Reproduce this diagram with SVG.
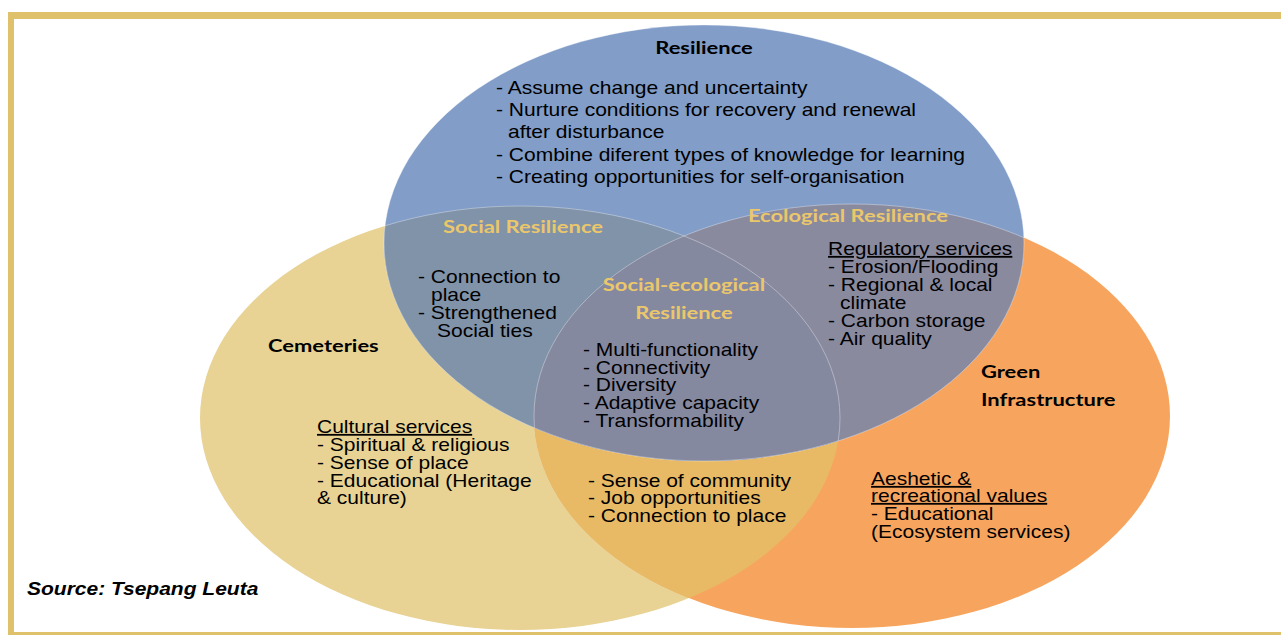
<svg xmlns="http://www.w3.org/2000/svg" width="1281" height="635" viewBox="0 0 1281 635">
<style>
.t{font-family:"Liberation Sans",Arial,sans-serif;font-size:18px;fill:#000;transform-box:fill-box;transform-origin:0 0;transform:scale(1.167,1)}
.h{font-family:Lato,"Open Sans",sans-serif;font-weight:bold;font-size:17px;fill:#000;transform-box:fill-box;transform-origin:0 0;transform:scale(1.29,1)}
.g{font-family:Lato,"Open Sans",sans-serif;font-weight:bold;font-size:17px;fill:#EBC76B;text-anchor:middle;transform-box:fill-box;transform-origin:center;transform:scale(1.29,1)}
.c{text-anchor:middle;transform-origin:center}
.u{text-decoration:underline}
.s{font-family:"Liberation Sans",Arial,sans-serif;font-weight:bold;font-style:italic;font-size:18px;fill:#000;transform-box:fill-box;transform-origin:0 0;transform:scale(1.167,1)}
.edge{fill:none;stroke:#ffffff;stroke-opacity:0.45;stroke-width:0.8}
</style>
<defs>
<clipPath id="cB"><ellipse cx="704" cy="243" rx="320" ry="218"/></clipPath>
<clipPath id="cY"><ellipse cx="520" cy="418" rx="320" ry="212"/></clipPath>
</defs>
<rect width="1281" height="635" fill="#fff"/>
<g id="frame" fill="#DFC16C">
<rect x="8" y="12" width="1273" height="7"/>
<rect x="8" y="12" width="6" height="623"/>
<rect x="8" y="632" width="1273" height="3"/>
</g>
<g id="cemeteries-circle">
<ellipse cx="520" cy="418" rx="320" ry="212" fill="#E8D394"/>
</g>
<g id="green-circle">
<ellipse cx="852" cy="416" rx="318" ry="212" fill="#F7A55E"/>
<ellipse cx="852" cy="416" rx="318" ry="212" fill="#E8BA66" clip-path="url(#cY)"/>
</g>
<g id="resilience-circle">
<ellipse cx="704" cy="243" rx="320" ry="218" fill="#819DC8"/>
<g clip-path="url(#cB)">
<ellipse cx="520" cy="418" rx="320" ry="212" fill="#8093A9"/>
<ellipse cx="852" cy="416" rx="318" ry="212" fill="#8A8A9F"/>
<g clip-path="url(#cY)"><ellipse cx="852" cy="416" rx="318" ry="212" fill="#8589A0"/></g>
</g>
<ellipse class="edge" cx="520" cy="418" rx="320" ry="212" clip-path="url(#cB)"/>
<ellipse class="edge" cx="852" cy="416" rx="318" ry="212" clip-path="url(#cB)"/>
<ellipse class="edge" cx="704" cy="243" rx="320" ry="218"/>
</g>
<g id="resilience">
<text class="h c" x="704" y="54">Resilience</text>
<text class="t" x="496" y="94">- Assume change and uncertainty</text>
<text class="t" x="496" y="116">- Nurture conditions for recovery and renewal</text>
<text class="t" x="508" y="138">after disturbance</text>
<text class="t" x="496" y="161">- Combine diferent types of knowledge for learning</text>
<text class="t" x="496" y="183">- Creating opportunities for self-organisation</text>
</g>
<g id="social-resilience">
<text class="g" x="523" y="233">Social Resilience</text>
<text class="t" x="418" y="283">- Connection to</text>
<text class="t" x="431" y="301">place</text>
<text class="t" x="418" y="319">- Strengthened</text>
<text class="t" x="437" y="337">Social ties</text>
</g>
<g id="ecological-resilience">
<text class="g" x="848" y="222">Ecological Resilience</text>
<text class="t u" x="828" y="255">Regulatory services</text>
<text class="t" x="828" y="273">- Erosion/Flooding</text>
<text class="t" x="828" y="291">- Regional &amp; local</text>
<text class="t" x="840" y="309">climate</text>
<text class="t" x="828" y="327">- Carbon storage</text>
<text class="t" x="828" y="345">- Air quality</text>
</g>
<g id="social-ecological-resilience">
<text class="g" x="684" y="291">Social-ecological</text>
<text class="g" x="684" y="319">Resilience</text>
<text class="t" x="583" y="356">- Multi-functionality</text>
<text class="t" x="583" y="374">- Connectivity</text>
<text class="t" x="583" y="391">- Diversity</text>
<text class="t" x="583" y="409">- Adaptive capacity</text>
<text class="t" x="583" y="427">- Transformability</text>
</g>
<g id="cemeteries">
<text class="h" x="268" y="352">Cemeteries</text>
<text class="t u" x="317" y="433">Cultural services</text>
<text class="t" x="317" y="451">- Spiritual &amp; religious</text>
<text class="t" x="317" y="469">- Sense of place</text>
<text class="t" x="317" y="487">- Educational (Heritage</text>
<text class="t" x="317" y="504">&amp; culture)</text>
</g>
<g id="cemeteries-green">
<text class="t" x="588" y="487">- Sense of community</text>
<text class="t" x="588" y="504">- Job opportunities</text>
<text class="t" x="588" y="522">- Connection to place</text>
</g>
<g id="green-infrastructure">
<text class="h" x="981" y="378">Green</text>
<text class="h" x="981" y="406">Infrastructure</text>
<text class="t u" x="871" y="485">Aeshetic &amp;</text>
<text class="t u" x="871" y="502">recreational values</text>
<text class="t" x="871" y="520">- Educational</text>
<text class="t" x="871" y="538">(Ecosystem services)</text>
</g>
<text class="s" x="27" y="595">Source: Tsepang Leuta</text>
</svg>
